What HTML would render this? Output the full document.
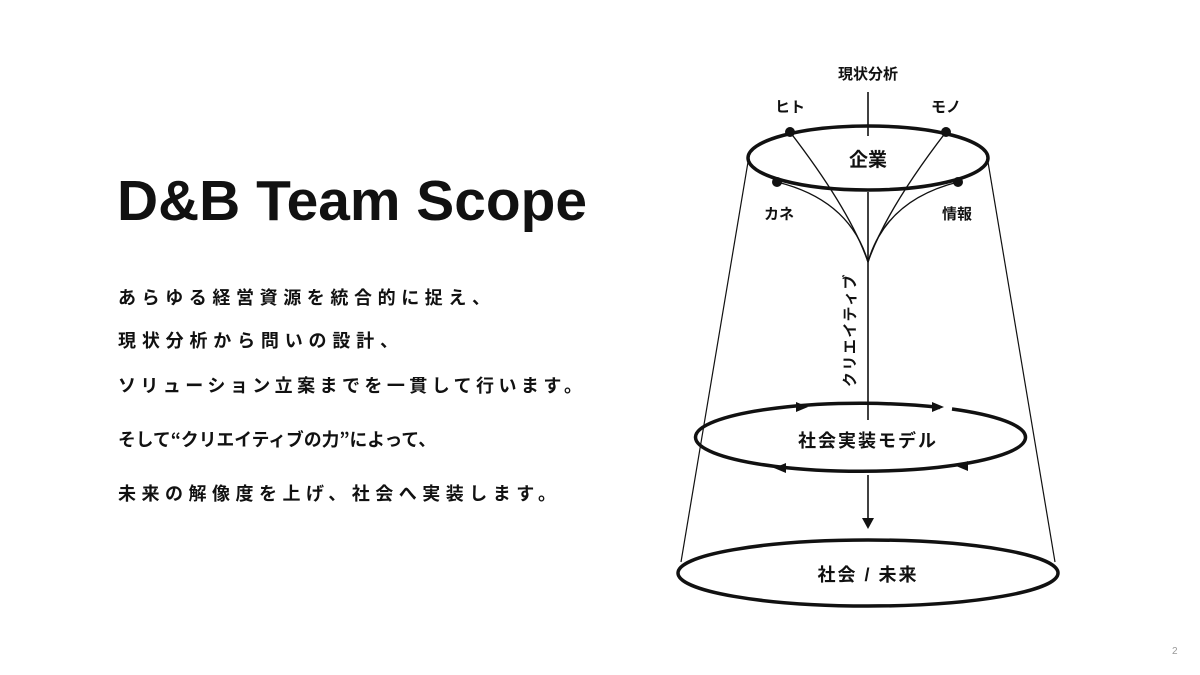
<!DOCTYPE html>
<html><head><meta charset="utf-8"><style>
html,body{margin:0;padding:0;background:#fff;}
svg{display:block;}
.jp{font-family:"Liberation Sans","Noto Sans CJK JP",sans-serif;font-weight:bold;fill:#111;}
</style></head><body>
<svg width="1200" height="675" viewBox="0 0 1200 675" xmlns="http://www.w3.org/2000/svg">
<text x="117" y="220" font-family="Liberation Sans, sans-serif" font-weight="bold" font-size="57" fill="#111" textLength="470" lengthAdjust="spacingAndGlyphs">D&amp;B Team Scope</text>
<g class="jp" font-size="18">
<text x="118" y="304" textLength="372">あらゆる経営資源を統合的に捉え、</text>
<text x="118" y="347" textLength="280">現状分析から問いの設計、</text>
<text x="118" y="392" textLength="464">ソリューション立案までを一貫して行います。</text>
<text x="118" y="446" textLength="318" lengthAdjust="spacingAndGlyphs" style="font-family:'Noto Sans CJK JP',sans-serif">そして“クリエイティブの力”によって、</text>
<text x="118" y="500" textLength="438">未来の解像度を上げ、社会へ実装します。</text>
</g>
<g stroke="#111" fill="none">
<line x1="748" y1="162" x2="681" y2="562" stroke-width="1.2"/>
<line x1="988" y1="162" x2="1055" y2="562" stroke-width="1.2"/>
<line x1="868" y1="92" x2="868" y2="136" stroke-width="1.6"/>
<line x1="868" y1="192" x2="868" y2="420" stroke-width="1.6"/>
<ellipse cx="868" cy="158" rx="120" ry="32" stroke-width="3.5"/>
<path d="M790 132 Q850 210 868 262" stroke-width="1.4"/>
<path d="M946 132 Q886 210 868 262" stroke-width="1.4"/>
<path d="M777 182 Q850 200 868 262" stroke-width="1.4"/>
<path d="M958 182 Q886 200 868 262" stroke-width="1.4"/>
<path d="M952 409 A165 34 0 1 1 940 407.5" stroke-width="3.5"/>
<line x1="868" y1="475" x2="868" y2="520" stroke-width="1.6"/>
<ellipse cx="868" cy="573" rx="190" ry="33" stroke-width="3.5"/>
</g>
<g fill="#111">
<circle cx="790" cy="132" r="5"/><circle cx="946" cy="132" r="5"/>
<circle cx="777" cy="182" r="5"/><circle cx="958" cy="182" r="5"/>
<polygon points="862,518 874,518 868,529"/>
<polygon points="796,402 808,407 796,412"/>
<polygon points="932,402 944,407 932,412"/>
<polygon points="786,463 774,468 786,473"/>
<polygon points="968,461 956,466 968,471"/>
</g>
<g class="jp" font-size="15" text-anchor="middle">
<text x="868" y="79">現状分析</text>
<text x="790" y="112">ヒト</text>
<text x="946" y="112">モノ</text>
<text x="779" y="219">カネ</text>
<text x="957" y="219">情報</text>
<text x="868" y="166" font-size="19">企業</text>
<text x="868" y="447" font-size="18" letter-spacing="2">社会実装モデル</text>
<text x="868" y="581" font-size="18" letter-spacing="2">社会 / 未来</text>
<text transform="translate(855,330) rotate(-90)" font-size="15" letter-spacing="1.5">クリエイティブ</text>
</g>
<text x="1172" y="654" font-family="Liberation Sans, sans-serif" font-size="10" fill="#999">2</text>
</svg>
</body></html>
